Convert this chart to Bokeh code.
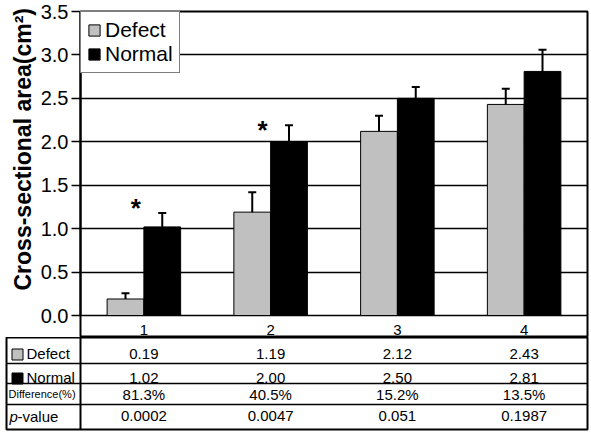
from bokeh.plotting import figure
from bokeh.models import (Range1d, FixedTicker, Whisker, ColumnDataSource, Span,
                          TeeHead, NumeralTickFormatter, Title)
from bokeh.core.properties import value
from bokeh.embed import file_html
from bokeh.resources import INLINE

# ---------------- data ----------------
categories = ["1", "2", "3", "4"]
defect = [0.19, 1.19, 2.12, 2.43]
normal = [1.02, 2.00, 2.50, 2.81]
defect_err = [0.065, 0.23, 0.18, 0.18]
normal_err = [0.16, 0.19, 0.13, 0.25]
star_cats = ["1", "2"]
star_y = [1.29, 2.19]
y_ticks = [0.0, 0.5, 1.0, 1.5, 2.0, 2.5, 3.0, 3.5]
y_tick_labels = ["0.0", "0.5", "1.0", "1.5", "2.0", "2.5", "3.0", "3.5"]
y_title = "Cross-sectional area(cm²)"
row_labels = ["Defect", "Normal", "Difference(%)", "p-value"]
defect_txt = ["0.19", "1.19", "2.12", "2.43"]
normal_txt = ["1.02", "2.00", "2.50", "2.81"]
difference_txt = ["81.3%", "40.5%", "15.2%", "13.5%"]
p_value_txt = ["0.0002", "0.0047", "0.051", "0.1987"]

# ---------------- layout constants ----------------
FONT_NAME = "Liberation Sans"
FONT = value(FONT_NAME)
LEFT = 80                 # plot frame left (px)
RIGHT_B = 4               # right border
FW = 507                  # main frame width
PXU = FW / len(categories)  # px per category unit
HDR = 22                  # header row height (px)
PLOT_H = 304              # px for 0..3.5
Y_TOP = y_ticks[-1]
y_start = -Y_TOP * HDR / PLOT_H
T_LEFT = 6
TFW = FW + LEFT - T_LEFT
x_left = -(LEFT - T_LEFT) / PXU
ROW_H = [26, 20, 21, 25]          # table row heights (px)
ROW_DY = [3, 4, 0, -1]            # text nudges (px)
row_edges = [sum(ROW_H[:i]) for i in range(len(ROW_H) + 1)]
row_mid = [(row_edges[i] + row_edges[i + 1]) / 2 for i in range(len(ROW_H))]


def u(px):
    return px / PXU


xc = [i + 0.5 for i in range(len(categories))]
bw = 0.29

src_d = ColumnDataSource(dict(
    x=[c - bw / 2 for c in xc], top=defect,
    lo=[v - e for v, e in zip(defect, defect_err)],
    hi=[v + e for v, e in zip(defect, defect_err)]))
src_n = ColumnDataSource(dict(
    x=[c + bw / 2 for c in xc], top=normal,
    lo=[v - e for v, e in zip(normal, normal_err)],
    hi=[v + e for v, e in zip(normal, normal_err)]))

# ---------------- main chart ----------------
p = figure(frame_width=FW, frame_height=PLOT_H + HDR,
           x_range=Range1d(0, len(categories)), y_range=Range1d(y_start, Y_TOP),
           x_axis_location=None, toolbar_location=None, output_backend="svg",
           min_border_left=LEFT, min_border_right=RIGHT_B, min_border_top=11,
           min_border_bottom=0, outline_line_color="black", outline_line_width=2)

ax = p.yaxis[0]
ax.ticker = FixedTicker(ticks=y_ticks)
ax.formatter = NumeralTickFormatter(format="0.0")
ax.major_label_overrides = {t: l for t, l in zip(y_ticks, y_tick_labels)}
ax.bounds = (y_ticks[0], y_ticks[-1])
ax.major_tick_out = 9
ax.major_tick_in = 0
ax.minor_tick_out = 0
ax.minor_tick_in = 0
ax.major_tick_line_color = "black"
ax.major_tick_line_width = 1.5
ax.axis_line_color = "black"
ax.axis_line_width = 2
ax.major_label_text_font = FONT_NAME
ax.major_label_text_font_size = "20px"
ax.major_label_text_color = "black"
ax.major_label_standoff = 3

p.add_layout(Title(text=y_title, align="left", offset=HDR + 25, standoff=4,
                   text_font=FONT_NAME, text_font_size="23px",
                   text_font_style="bold", text_color="black"), "left")

p.xgrid.visible = False
p.ygrid.ticker = FixedTicker(ticks=y_ticks)
p.ygrid.grid_line_color = "black"
p.ygrid.grid_line_width = 1.5
p.ygrid.grid_line_alpha = 1.0

p.vbar(x="x", top="top", bottom=0, width=bw, source=src_d,
       fill_color="#c0c0c0", line_color="black", line_width=1, legend_label="Defect")
p.vbar(x="x", top="top", bottom=0, width=bw, source=src_n,
       fill_color="black", line_color="black", line_width=1, legend_label="Normal")

for src in (src_d, src_n):
    p.add_layout(Whisker(base="x", upper="hi", lower="lo", source=src,
                         dimension="height", line_color="black", line_width=2,
                         upper_head=TeeHead(size=8, line_width=2, line_color="black"),
                         lower_head=TeeHead(size=8, line_width=2, line_color="black")))

p.text(x=[xc[categories.index(c)] - u(8) for c in star_cats], y=star_y,
       text=["*"] * len(star_cats), text_font=FONT, text_font_size="26px",
       text_font_style="bold", text_align="center", text_baseline="middle",
       y_offset=5, text_color="black")

p.text(x=xc, y=[y_start / 2] * len(categories), text=categories,
       text_font=FONT, text_font_size="15px", text_align="center",
       text_baseline="middle", y_offset=3, text_color="black")

lg = p.legend[0]
lg.location = "top_left"
lg.margin = 0
lg.padding = 6
lg.spacing = 0
lg.border_line_color = "black"
lg.border_line_width = 1.5
lg.label_text_font = FONT_NAME
lg.label_text_font_size = "21px"
lg.label_text_color = "black"
lg.glyph_width = 14
lg.glyph_height = 14
lg.label_standoff = 4
lg.background_fill_alpha = 1.0

# ---------------- table ----------------
t = figure(frame_width=TFW, frame_height=row_edges[-1],
           x_range=Range1d(x_left, len(categories)),
           y_range=Range1d(row_edges[-1], 0),
           x_axis_location=None, y_axis_location=None, toolbar_location=None,
           output_backend="svg", min_border_left=T_LEFT, min_border_right=RIGHT_B,
           min_border_top=0, min_border_bottom=4,
           outline_line_color="black", outline_line_width=2)
t.grid.visible = False

for e in row_edges[1:-1]:
    t.add_layout(Span(location=e, dimension="width", line_color="black", line_width=1.5))
t.add_layout(Span(location=0, dimension="height", line_color="black", line_width=2))

for i, vals in enumerate([defect_txt, normal_txt, difference_txt, p_value_txt]):
    t.text(x=xc, y=[row_mid[i]] * len(vals), text=vals, text_font=FONT,
           text_font_size="15px", text_align="center", text_baseline="middle",
           y_offset=ROW_DY[i], text_color="black")

t.scatter(x=[x_left + u(11)] * 2, y=[row_mid[i] + ROW_DY[i] + 1 for i in range(2)],
          marker="square", size=11,
          fill_color=["#c0c0c0", "black"], line_color="black", line_width=1)
for i in range(2):
    t.text(x=[x_left + u(20)], y=[row_mid[i]], text=[row_labels[i]], text_font=FONT,
           text_font_size="15px", text_align="left", text_baseline="middle",
           y_offset=ROW_DY[i], text_color="black")
t.text(x=[x_left + u(2)], y=[row_mid[2]], text=[row_labels[2]], text_font=FONT,
       text_font_size="11px", text_align="left", text_baseline="middle",
       y_offset=ROW_DY[2], text_color="black")
p_lab = row_labels[3]
t.text(x=[x_left + u(3)], y=[row_mid[3]], text=[p_lab[0]], text_font=FONT,
       text_font_size="15px", text_font_style="italic", text_align="left",
       text_baseline="middle", y_offset=ROW_DY[3], text_color="black")
t.text(x=[x_left + u(11)], y=[row_mid[3]], text=[p_lab[1:]], text_font=FONT,
       text_font_size="15px", text_align="left", text_baseline="middle",
       y_offset=ROW_DY[3], text_color="black")

open("out.html", "w").write(file_html([p, t], INLINE, "chart"))
